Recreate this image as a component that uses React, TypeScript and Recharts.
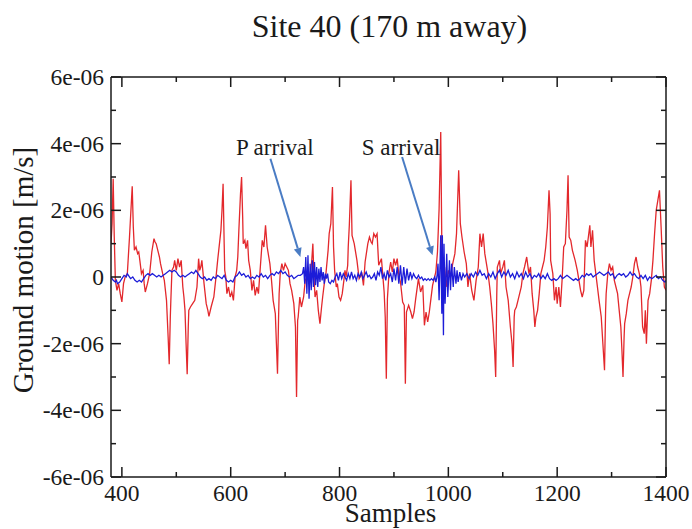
import { LineChart, Line, XAxis, YAxis, ReferenceLine, ReferenceDot } from 'recharts';

// ground motion in units of 1e-6 m/s: [sample, value]
const redTrace: [number, number][] = [
  [380, 1.0], [382, 1.6], [384, 2.95], [386, 1.2], [388, -0.1], [391, -0.4], [394, -0.2], [397, -0.5],
  [400, -0.75], [403, -0.2], [406, 0.0], [410, 0.1], [414, 1.2], [419, 2.72], [421, 1.5], [423, 0.8],
  [426, 0.9], [429, 0.7], [431, 0.75], [433, 0.5], [436, 0.1], [439, 0.2], [441, -0.2], [443, -0.45],
  [447, -0.2], [451, 0.1], [455, 0.75], [459, 1.15], [461, 1.05], [463, 1.0], [466, 0.8], [469, 0.6],
  [471, 0.4], [475, 0.1], [478, -0.1], [482, -0.7], [485, -1.8], [487, -2.62], [489, -1.2], [490, -0.7],
  [492, 0.2], [495, 0.3], [497, 0.5], [500, 0.2], [503, 0.55], [506, 0.3], [509, 0.5], [512, -0.3],
  [514, -0.6], [516, -1.0], [518, -2.0], [520, -2.92], [522, -1.5], [523, -1.0], [526, -0.9], [530, -0.8],
  [534, -0.7], [538, -0.3], [541, 0.55], [543, 0.2], [545, 0.3], [547, 0.5], [551, -0.2], [555, -0.8],
  [558, -1.0], [560, -1.18], [564, -0.9], [569, -0.6], [573, 0.0], [576, 0.5], [578, 0.8], [582, 1.4],
  [584, 2.0], [586, 2.8], [588, 1.0], [589, 0.2], [591, 0.0], [593, -0.5], [596, -0.3], [599, -0.6],
  [602, -0.45], [605, -0.7], [608, 0.0], [611, 0.2], [613, 0.6], [615, 1.4], [618, 2.5], [620, 3.0],
  [622, 1.8], [623, 1.0], [626, 1.1], [628, 0.85], [631, 1.1], [633, 0.5], [636, 0.2], [639, -0.4],
  [642, -0.1], [645, -0.55], [648, -0.3], [651, -0.5], [654, 0.2], [658, 1.1], [661, 0.9], [664, 1.55],
  [667, 0.9], [670, 0.6], [672, 0.4], [675, -0.1], [678, -0.7], [682, -1.1], [684, -2.0], [686, -2.9],
  [688, -1.2], [689, -0.5], [691, 0.1], [694, 0.4], [697, 0.2], [700, 0.4], [703, 0.3], [706, 0.2],
  [709, -0.2], [712, -0.4], [716, -0.8], [719, -1.5], [721, -3.6], [723, -1.3], [724, -1.2], [727, -0.6],
  [730, -0.9], [734, -0.6], [737, -0.1], [740, 0.0], [742, 0.3], [745, -0.1], [749, 0.5], [751, 1.0],
  [753, 0.0], [755, -0.6], [758, -0.4], [761, -1.0], [764, -1.4], [767, -0.9], [769, -0.6], [772, -0.2],
  [775, 0.1], [779, 0.8], [781, 1.3], [784, 1.6], [787, 2.7], [789, 0.9], [791, 0.2], [794, -0.3],
  [796, -0.2], [799, -0.6], [802, -0.7], [805, -0.5], [808, -0.1], [810, 0.2], [812, 0.0], [815, 0.35],
  [816, 0.9], [818, 1.55], [821, 2.9], [823, 1.25], [827, 1.0], [829, 0.8], [832, 0.5], [836, -0.05],
  [841, 0.1], [844, -0.25], [847, 0.45], [852, 1.0], [855, 1.2], [858, 1.05], [860, 1.0], [863, 1.3],
  [866, 1.2], [869, 1.3], [872, 0.35], [877, 0.55], [880, -0.05], [882, -0.45], [884, -1.2], [886, -3.05],
  [888, -0.65], [891, 0.15], [894, 0.45], [897, 0.15], [900, 0.55], [903, 0.35], [906, 0.55], [909, 0.05],
  [912, -0.15], [916, -0.75], [919, -0.85], [921, -3.2], [923, -1.05], [927, -0.85], [931, -1.05], [934, -1.25],
  [937, -1.05], [940, -0.65], [945, -0.05], [949, -0.45], [953, -0.25], [956, -1.45], [959, -1.05], [962, -1.35],
  [965, -1.05], [968, -0.65], [971, -0.25], [974, -0.05], [977, 0.15], [980, 0.75], [983, 2.05], [986, 4.35],
  [988, 1.0], [990, -0.5], [993, 0.3], [996, -0.3], [1000, 0.2], [1004, 0.0], [1008, 0.4], [1012, 0.7],
  [1015, 1.3], [1019, 3.2], [1022, 1.6], [1025, 1.2], [1029, 0.75], [1033, 0.4], [1036, -0.3], [1039, 0.1],
  [1043, -0.4], [1047, -0.7], [1051, -0.1], [1055, 0.3], [1058, 1.3], [1061, 0.9], [1064, 1.3], [1067, 0.7],
  [1070, 0.4], [1073, 0.1], [1076, -0.3], [1079, -0.8], [1082, -1.4], [1085, -2.2], [1087, -3.0], [1089, -0.5],
  [1090, 0.3], [1094, 0.5], [1096, 0.1], [1100, 0.3], [1103, 0.5], [1106, -0.3], [1110, -0.7], [1114, -1.5],
  [1117, -2.0], [1119, -2.7], [1121, -1.2], [1122, -1.0], [1125, -0.9], [1128, -0.7], [1131, -0.5], [1134, -0.3],
  [1137, 0.1], [1140, 0.3], [1144, 0.6], [1148, 0.1], [1151, 0.3], [1154, -0.5], [1157, -1.0], [1159, -1.5],
  [1161, -1.2], [1164, -1.0], [1167, -0.5], [1170, 0.1], [1173, 0.3], [1176, 0.5], [1179, 0.9], [1182, 1.5],
  [1185, 2.6], [1187, 1.9], [1188, 0.5], [1192, 0.1], [1195, -0.7], [1198, -0.3], [1200, -0.8], [1203, -0.3],
  [1206, -0.9], [1209, -0.1], [1212, 0.9], [1215, 1.0], [1218, 2.0], [1220, 3.05], [1222, 1.2], [1225, 1.1],
  [1228, 0.8], [1233, 0.5], [1237, 0.2], [1240, -0.1], [1243, -0.4], [1246, -0.6], [1249, -0.4], [1252, 1.1],
  [1255, 0.9], [1260, 1.55], [1262, 0.9], [1265, 1.4], [1268, 0.5], [1271, 0.1], [1274, -0.3], [1277, -0.7],
  [1281, -1.2], [1284, -2.0], [1287, -2.8], [1289, -1.0], [1290, -0.5], [1293, 0.1], [1296, 0.4], [1299, 0.2],
  [1302, 0.3], [1305, -0.1], [1308, -0.3], [1311, -0.5], [1314, -1.0], [1317, -1.5], [1319, -2.2], [1321, -3.0],
  [1323, -1.8], [1324, -1.4], [1327, -1.1], [1330, -0.7], [1333, -0.5], [1336, -0.3], [1339, 0.0], [1342, 0.4],
  [1345, 0.6], [1348, 0.3], [1351, 0.1], [1354, -0.3], [1357, -1.5], [1360, -1.7], [1362, -1.0], [1364, -2.0],
  [1367, -0.7], [1370, -0.5], [1373, -0.1], [1376, 0.5], [1379, 1.3], [1382, 2.0], [1385, 2.3], [1388, 2.6],
  [1391, 1.5], [1394, 0.3], [1397, -0.3], [1400, -0.4],
];

const blueTrace: [number, number][] = [
  [380, 0.0], [384, -0.1], [388, -0.15], [390, -0.1], [392, -0.2], [396, -0.15], [400, -0.05], [404, 0.05], [408, 0.0],
  [410, 0.1], [412, 0.05], [416, -0.05], [420, 0.0], [424, -0.1], [428, -0.15], [432, -0.1], [436, -0.15], [440, -0.05],
  [444, 0.05], [448, 0.1], [452, 0.05], [456, 0.1], [460, 0.05], [464, 0.0], [468, 0.05], [472, 0.0],
  [476, 0.05], [480, 0.1], [484, 0.15], [488, 0.2], [492, 0.15], [496, 0.2], [500, 0.15], [504, 0.05],
  [508, 0.0], [512, 0.05], [516, 0.0], [520, 0.05], [524, 0.1], [528, 0.15], [532, 0.1], [536, 0.2],
  [540, 0.1], [544, 0.0], [548, -0.05], [552, 0.0], [556, -0.1], [560, -0.05], [564, -0.1], [568, 0.0],
  [572, -0.05], [576, 0.05], [580, 0.0], [584, -0.05], [588, 0.05], [592, -0.1], [596, -0.15], [600, -0.1],
  [604, -0.15], [608, 0.0], [612, 0.05], [616, 0.15], [620, 0.05], [624, 0.1], [628, 0.0], [632, 0.05],
  [636, -0.05], [640, 0.0], [644, -0.05], [648, 0.05], [652, 0.0], [656, 0.1], [660, 0.0], [664, 0.05],
  [668, -0.05], [672, 0.05], [676, 0.1], [680, 0.05], [684, 0.15], [688, 0.1], [692, 0.2], [696, 0.1],
  [700, 0.15], [704, 0.05], [708, 0.0], [712, 0.05], [716, -0.05], [720, 0.0], [724, 0.05], [728, 0.05],
  [732, 0.1], [734, 0.3], [736, -0.2], [738, 0.6], [740, -0.5], [742, 0.65], [744, -0.65], [746, 0.4],
  [748, -0.4], [750, 0.5], [752, -0.3], [754, 0.45], [756, -0.25], [758, 0.3], [760, -0.3], [762, 0.25],
  [764, -0.15], [766, 0.3], [768, -0.1], [770, 0.15], [772, -0.2], [774, 0.1], [776, -0.05], [778, 0.1],
  [780, -0.15], [783, -0.2], [786, -0.1], [789, -0.15], [792, 0.0], [795, 0.1], [798, -0.1], [801, 0.15],
  [804, -0.05], [807, 0.1], [810, 0.0], [813, -0.1], [816, 0.1], [819, -0.05], [822, 0.15], [825, -0.05],
  [828, 0.05], [831, -0.1], [834, 0.1], [837, 0.0], [840, 0.15], [843, -0.05], [846, 0.05], [849, 0.15],
  [852, 0.0], [855, 0.05], [858, -0.05], [861, 0.0], [864, 0.1], [867, -0.1], [870, 0.15], [873, 0.05],
  [876, 0.3], [879, -0.05], [882, 0.1], [885, -0.1], [888, 0.2], [891, 0.0], [894, 0.1], [897, -0.15],
  [900, 0.25], [903, -0.1], [906, 0.3], [909, -0.2], [912, 0.35], [915, -0.25], [918, 0.3], [921, -0.2],
  [924, 0.25], [927, -0.1], [930, 0.15], [933, -0.05], [936, 0.1], [939, 0.0], [942, -0.05], [945, 0.05],
  [948, -0.05], [951, 0.0], [954, -0.1], [957, -0.05], [960, -0.1], [963, -0.05], [966, -0.1], [969, -0.05],
  [972, -0.1], [975, 0.0], [977, -0.15], [979, 0.0], [981, 0.4], [983, -0.7], [986, 1.25], [988, -1.1],
  [989, 1.25], [991, -1.75], [992, 1.0], [994, -0.8], [997, 0.7], [999, -0.6], [1002, 0.5], [1004, -0.4],
  [1006, 0.4], [1009, -0.3], [1011, 0.3], [1014, -0.2], [1016, 0.2], [1018, -0.15], [1021, 0.15], [1024, -0.1],
  [1027, 0.1], [1030, 0.0], [1034, 0.1], [1038, -0.05], [1042, 0.1], [1046, 0.0], [1050, 0.15], [1054, 0.05],
  [1058, 0.2], [1062, 0.05], [1066, 0.1], [1070, -0.05], [1074, 0.1], [1078, 0.0], [1082, 0.15], [1086, -0.05],
  [1090, 0.1], [1094, 0.2], [1098, 0.0], [1102, 0.15], [1106, 0.05], [1110, 0.2], [1114, 0.0], [1118, 0.1],
  [1122, -0.05], [1126, 0.15], [1130, 0.0], [1134, 0.1], [1138, -0.05], [1142, 0.15], [1146, 0.0], [1150, 0.1],
  [1154, -0.05], [1158, 0.05], [1162, 0.0], [1166, 0.1], [1170, -0.05], [1174, 0.05], [1178, -0.05], [1182, 0.1],
  [1186, -0.05], [1190, -0.1], [1194, -0.05], [1198, -0.1], [1202, -0.05], [1206, 0.05], [1210, -0.05], [1214, 0.0],
  [1218, 0.05], [1222, 0.0], [1226, -0.05], [1230, -0.1], [1234, -0.05], [1238, -0.1], [1242, -0.05], [1246, 0.05],
  [1250, 0.0], [1254, 0.1], [1258, 0.05], [1262, 0.1], [1266, 0.0], [1270, 0.05], [1274, 0.1], [1278, 0.15],
  [1282, 0.1], [1286, 0.05], [1290, 0.1], [1294, 0.15], [1298, 0.05], [1302, 0.1], [1306, -0.05], [1310, 0.05],
  [1314, 0.1], [1318, 0.05], [1322, 0.1], [1326, 0.0], [1330, 0.05], [1334, 0.15], [1338, 0.05], [1342, 0.1],
  [1346, 0.0], [1350, -0.05], [1354, 0.05], [1358, -0.05], [1362, 0.05], [1366, -0.1], [1370, 0.0], [1374, -0.05],
  [1378, 0.0], [1382, 0.05], [1386, -0.05], [1390, 0.0], [1394, -0.1], [1398, -0.15], [1400, -0.1],
];

const sampleDomain = [380, 1400];
const xTicks = [400, 500, 600, 700, 800, 900, 1000, 1100, 1200, 1300, 1400];
const yTicksMicro = [-6, -5, -4, -3, -2, -1, 0, 1, 2, 3, 4, 5, 6];

// arrival markers: label position, arrow start, arrow tip (sample, 1e-6 m/s)
const arrivalNames = ['P arrival', 'S arrival'];
const arrivalLabelAt: [number, number][] = [[681, 3.65], [913, 3.65]];
const arrivalFrom: [number, number][] = [[673, 3.55], [915, 3.6]];
const arrivalTo: [number, number][] = [[728, 0.6], [971, 0.65]];

const MICRO = 1e-6;
const toRows = (trace: [number, number][]) => trace.map(([x, v]) => ({ x, y: v * MICRO }));
const redData = toRows(redTrace);
const blueData = toRows(blueTrace);
const yTicks = yTicksMicro.map((v) => v * MICRO);

const FONT = '"Liberation Serif", "Times New Roman", serif';
const INK = '#1a1a1a';
const ARROW = '#4a7cc4';
const MAJOR = 10;
const MINOR = 5;

const isMajorX = (v: number) => v % 200 === 0;
const isMajorY = (v: number) => Math.round(v / MICRO) % 2 === 0;
const fmtY = (v: number) => {
  const n = Math.round(v / MICRO);
  return n === 0 ? '0' : `${n}e-06`;
};

function BottomTick({ x, y, payload }: any) {
  const major = isMajorX(payload.value);
  return (
    <g>
      <line x1={x} y1={y} x2={x} y2={y - (major ? MAJOR : MINOR)} stroke={INK} strokeWidth={1.5} />
      {major && (
        <text x={x} y={y + 24} textAnchor="middle" fontFamily={FONT} fontSize={23.5} fill={INK}>
          {payload.value}
        </text>
      )}
    </g>
  );
}

function TopTick({ x, y, payload }: any) {
  const major = isMajorX(payload.value);
  return <line x1={x} y1={y} x2={x} y2={y + (major ? MAJOR : MINOR)} stroke={INK} strokeWidth={1.5} />;
}

function LeftTick({ x, y, payload }: any) {
  const major = isMajorY(payload.value);
  return (
    <g>
      <line x1={x} y1={y} x2={x + (major ? MAJOR : MINOR)} y2={y} stroke={INK} strokeWidth={1.5} />
      {major && (
        <text x={x - 7} y={y + 8} textAnchor="end" fontFamily={FONT} fontSize={23.5} fill={INK}>
          {fmtY(payload.value)}
        </text>
      )}
    </g>
  );
}

function RightTick({ x, y, payload }: any) {
  const major = isMajorY(payload.value);
  return <line x1={x} y1={y} x2={x - (major ? MAJOR : MINOR)} y2={y} stroke={INK} strokeWidth={1.5} />;
}

function ArrowShape({ x1, y1, x2, y2 }: any) {
  const a = Math.atan2(y2 - y1, x2 - x1);
  const len = 9;
  const w = 4;
  const bx = x2 - len * Math.cos(a);
  const by = y2 - len * Math.sin(a);
  const px = -Math.sin(a) * w;
  const py = Math.cos(a) * w;
  return (
    <g>
      <line x1={x1} y1={y1} x2={bx} y2={by} stroke={ARROW} strokeWidth={2} />
      <polygon points={`${x2},${y2} ${bx + px},${by + py} ${bx - px},${by - py}`} fill={ARROW} />
    </g>
  );
}

export default function App() {
  return (
    <div style={{ position: 'absolute', left: 0, top: 0, width: 692, height: 529, background: '#fff' }}>
      <LineChart width={692} height={529} margin={{ top: 0, right: 0, bottom: 0, left: 0 }}>
        <XAxis
          dataKey="x"
          type="number"
          domain={sampleDomain}
          allowDataOverflow
          ticks={xTicks}
          interval={0}
          height={52}
          tickSize={0}
          tickMargin={0}
          tickLine={false}
          axisLine={{ stroke: INK, strokeWidth: 1.5 }}
          tick={<BottomTick />}
          label={({ viewBox }: any) => (
            <text x={viewBox.x + viewBox.width / 2 + 2} y={viewBox.y + 45} textAnchor="middle"
              fontFamily={FONT} fontSize={27} fill={INK}>Samples</text>
          )}
        />
        <XAxis
          xAxisId="top"
          orientation="top"
          dataKey="x"
          type="number"
          domain={sampleDomain}
          allowDataOverflow
          ticks={xTicks}
          interval={0}
          height={77}
          tickSize={0}
          tickMargin={0}
          tickLine={false}
          axisLine={{ stroke: INK, strokeWidth: 1.5 }}
          tick={<TopTick />}
          label={({ viewBox }: any) => (
            <text x={viewBox.x + viewBox.width / 2 + 1} y={37} textAnchor="middle"
              fontFamily={FONT} fontSize={32} fill={INK}>Site 40 (170 m away)</text>
          )}
        />
        <YAxis
          type="number"
          domain={[-6 * MICRO, 6 * MICRO]}
          allowDataOverflow
          ticks={yTicks}
          interval={0}
          width={111}
          tickSize={0}
          tickMargin={0}
          tickLine={false}
          axisLine={{ stroke: INK, strokeWidth: 1.5 }}
          tick={<LeftTick />}
          label={({ viewBox }: any) => {
            const cx = 33;
            const cy = viewBox.y + viewBox.height / 2 - 7;
            return (
              <text x={cx} y={cy} transform={`rotate(-90 ${cx} ${cy})`} textAnchor="middle"
                fontFamily={FONT} fontSize={29} fill={INK}>Ground motion [m/s]</text>
            );
          }}
        />
        <YAxis
          yAxisId="right"
          orientation="right"
          type="number"
          domain={[-6 * MICRO, 6 * MICRO]}
          allowDataOverflow
          ticks={yTicks}
          interval={0}
          width={26}
          tickSize={0}
          tickMargin={0}
          tickLine={false}
          axisLine={{ stroke: INK, strokeWidth: 1.5 }}
          tick={<RightTick />}
        />
        <Line data={redData} dataKey="y" type="linear" stroke="#e3282c" strokeWidth={1.3}
          dot={false} activeDot={false} isAnimationActive={false} />
        <Line data={blueData} dataKey="y" type="linear" stroke="#1c1cd8" strokeWidth={1.3}
          dot={false} activeDot={false} isAnimationActive={false} />
        {arrivalNames.map((name, i) => (
          <ReferenceLine
            key={`arrow-${name}`}
            segment={[
              { x: arrivalFrom[i][0], y: arrivalFrom[i][1] * MICRO },
              { x: arrivalTo[i][0], y: arrivalTo[i][1] * MICRO },
            ]}
            shape={ArrowShape}
          />
        ))}
        {arrivalNames.map((name, i) => (
          <ReferenceDot
            key={`label-${name}`}
            x={arrivalLabelAt[i][0]}
            y={arrivalLabelAt[i][1] * MICRO}
            shape={(p: any) => (
              <text x={p.cx} y={p.cy} textAnchor="middle" fontFamily={FONT} fontSize={23} fill={INK}>
                {name}
              </text>
            )}
          />
        ))}
      </LineChart>
    </div>
  );
}
